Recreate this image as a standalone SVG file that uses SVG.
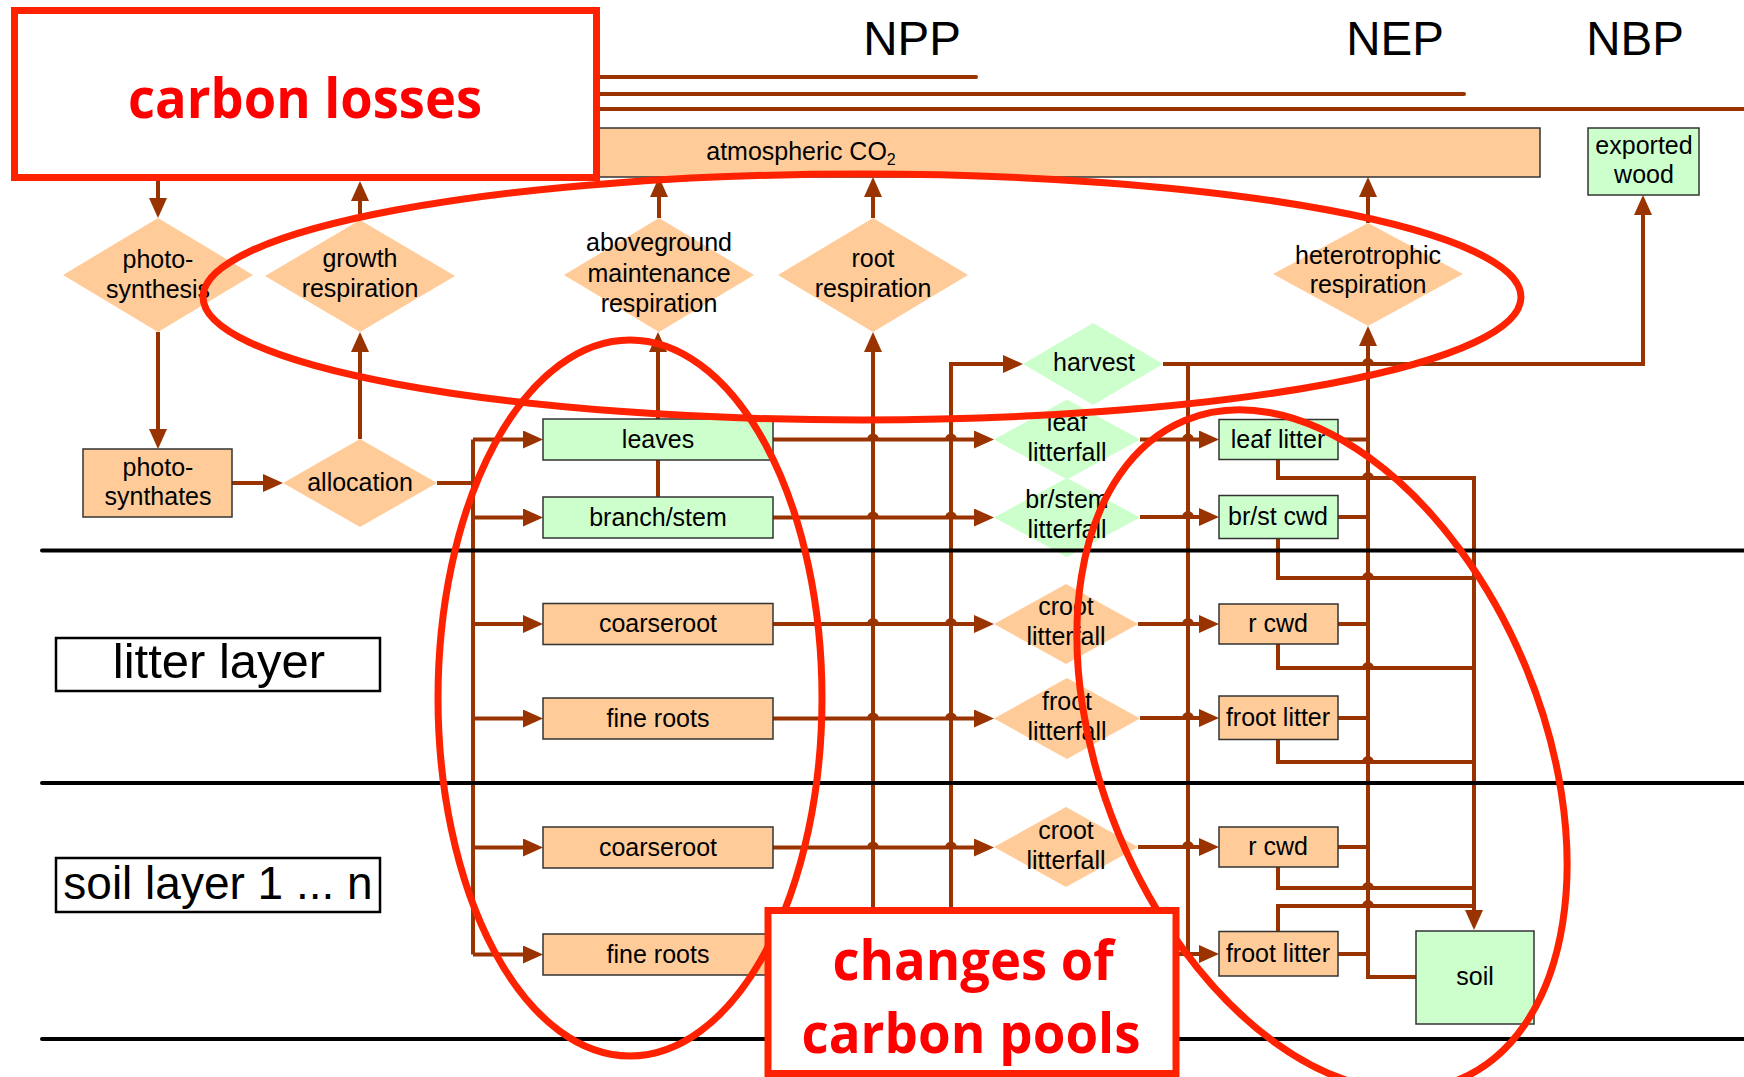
<svg xmlns="http://www.w3.org/2000/svg" width="1744" height="1077" viewBox="0 0 1744 1077">
  <defs>
    <marker id="arr" markerUnits="userSpaceOnUse" markerWidth="20" markerHeight="18" refX="15" refY="9" orient="auto">
      <path d="M0,0 L20,9 L0,18 z" fill="#993300"/>
    </marker>
    <style>
      .flow{fill:none;stroke:#993300;stroke-width:4}
      .arrow{marker-end:url(#arr)}
      .bar{fill:none;stroke:#993300;stroke-width:4;stroke-linecap:round}
      .box-o{fill:#FFCC99;stroke:#333;stroke-width:1.5}
      .box-g{fill:#CCFFCC;stroke:#333;stroke-width:1.5}
      .dia-o{fill:#FFCC99}
      .dia-g{fill:#CCFFCC}
      .lbl{font-family:"Liberation Sans",Arial,sans-serif;font-size:25px;fill:#000;text-anchor:middle}
      .big{font-family:"Liberation Sans",Arial,sans-serif;font-size:47.5px;fill:#000;text-anchor:middle}
      .layer{stroke:#000;stroke-width:4;stroke-linecap:round}
      .tag{fill:#fff;stroke:#000;stroke-width:2.5}
      .ring{fill:none;stroke:#FF2200;stroke-width:7}
      .callout{fill:#fff;stroke:#FF2200;stroke-width:7}
      .callout-t{font-family:"Open Sans","Liberation Sans",sans-serif;font-weight:bold;font-size:56px;fill:#FF0000;text-anchor:middle}
    </style>
  </defs>

  <rect width="1744" height="1077" fill="#fff"/>

  <!-- budget headings and their bars -->
  <g id="budget-terms">
    <text class="big" x="912" y="55">NPP</text>
    <text class="big" x="1395" y="55">NEP</text>
    <text class="big" x="1635" y="55">NBP</text>
    <path class="bar" d="M600,77 H976"/>
    <path class="bar" d="M600,94 H1464"/>
    <path class="bar" d="M600,109 H1744"/>
  </g>

  <!-- connectors -->
  <g id="connectors">
    <!-- top row to atmosphere / carbon losses -->
    <path class="flow arrow" d="M158,181 V213"/>
    <path class="flow arrow" d="M360,220 V186"/>
    <path class="flow arrow" d="M659,218 V182"/>
    <path class="flow arrow" d="M873,218 V182"/>
    <path class="flow arrow" d="M1368,223 V182"/>
    <!-- assimilation and allocation -->
    <path class="flow arrow" d="M158,332 V444"/>
    <path class="flow arrow" d="M232,483 H278"/>
    <path class="flow arrow" d="M360,439 V337"/>
    <path class="flow" d="M437,483 H473"/>
    <path class="flow" d="M473,439.5 V954.5"/>
    <path class="flow arrow" d="M473,439.5 H538"/>
    <path class="flow arrow" d="M473,517.5 H538"/>
    <path class="flow arrow" d="M473,624 H538"/>
    <path class="flow arrow" d="M473,718.5 H538"/>
    <path class="flow arrow" d="M473,847.5 H538"/>
    <path class="flow arrow" d="M473,954.5 H538"/>
    <!-- maintenance respiration of leaves and stem -->
    <path class="flow arrow" d="M658,419 V337"/>
    <path class="flow" d="M658,497 V460"/>
    <!-- root respiration and harvest collectors -->
    <path class="flow arrow" d="M873,954 V337"/>
    <path class="flow arrow" d="M951,954 V364 H1018"/>
    <!-- plant pools to litterfall -->
    <path class="flow arrow" d="M773,439.5 H869 a4,4 0 0 1 8,0 H947 a4,4 0 0 1 8,0 H989"/>
    <path class="flow arrow" d="M773,517.5 H869 a4,4 0 0 1 8,0 H947 a4,4 0 0 1 8,0 H989"/>
    <path class="flow arrow" d="M773,624 H869 a4,4 0 0 1 8,0 H947 a4,4 0 0 1 8,0 H989"/>
    <path class="flow arrow" d="M773,718.5 H869 a4,4 0 0 1 8,0 H947 a4,4 0 0 1 8,0 H989"/>
    <path class="flow arrow" d="M773,847.5 H869 a4,4 0 0 1 8,0 H947 a4,4 0 0 1 8,0 H989"/>
    <!-- litterfall to litter pools -->
    <path class="flow arrow" d="M1140,439.5 H1184 a4,4 0 0 1 8,0 H1214"/>
    <path class="flow arrow" d="M1140,517 H1184 a4,4 0 0 1 8,0 H1214"/>
    <path class="flow arrow" d="M1138,624 H1184 a4,4 0 0 1 8,0 H1214"/>
    <path class="flow arrow" d="M1140,718 H1184 a4,4 0 0 1 8,0 H1214"/>
    <path class="flow arrow" d="M1138,847 H1184 a4,4 0 0 1 8,0 H1214"/>
    <path class="flow arrow" d="M1170,954 H1214"/>
    <!-- harvest residues and export -->
    <path class="flow" d="M1188,364 V954"/>
    <path class="flow arrow" d="M1163,364 H1364 a4,4 0 0 1 8,0 H1643 V200"/>
    <!-- heterotrophic respiration collector -->
    <path class="flow arrow" d="M1416,977 H1368 V331"/>
    <path class="flow" d="M1338,439.5 H1368"/>
    <path class="flow" d="M1338,517 H1368"/>
    <path class="flow" d="M1338,624 H1368"/>
    <path class="flow" d="M1338,718 H1368"/>
    <path class="flow" d="M1338,847 H1368"/>
    <path class="flow" d="M1338,954 H1368"/>
    <!-- litter pools to soil -->
    <path class="flow" d="M1278,459.5 V478 H1364 a4,4 0 0 1 8,0 H1474"/>
    <path class="flow" d="M1278,538.5 V578 H1364 a4,4 0 0 1 8,0 H1474"/>
    <path class="flow" d="M1278,644 V668 H1364 a4,4 0 0 1 8,0 H1474"/>
    <path class="flow" d="M1278,739.5 V762 H1364 a4,4 0 0 1 8,0 H1474"/>
    <path class="flow" d="M1278,867 V888 H1364 a4,4 0 0 1 8,0 H1474"/>
    <path class="flow" d="M1278,931.5 V906 H1364 a4,4 0 0 1 8,0 H1474"/>
    <path class="flow arrow" d="M1474,476 V925"/>
  </g>

  <!-- atmosphere and export -->
  <g id="atmospheric-co2">
    <rect class="box-o" x="560" y="128" width="980" height="49"/>
    <text class="lbl" x="801" y="160">atmospheric CO<tspan font-size="16" dy="5">2</tspan></text>
  </g>
  <g id="exported-wood">
    <rect class="box-g" x="1588" y="128" width="111" height="67"/>
    <text class="lbl" x="1644" y="154">exported</text>
    <text class="lbl" x="1644" y="183">wood</text>
  </g>

  <!-- process diamonds -->
  <g id="photosynthesis">
    <polygon class="dia-o" points="158,218 253,275 158,332 63,275"/>
    <text class="lbl" x="158" y="268">photo-</text>
    <text class="lbl" x="158" y="298">synthesis</text>
  </g>
  <g id="growth-respiration">
    <polygon class="dia-o" points="360,220 455,276 360,332 265,276"/>
    <text class="lbl" x="360" y="267">growth</text>
    <text class="lbl" x="360" y="297">respiration</text>
  </g>
  <g id="maintenance-respiration">
    <polygon class="dia-o" points="659,218 754,275 659,332 564,275"/>
    <text class="lbl" x="659" y="251">aboveground</text>
    <text class="lbl" x="659" y="282">maintenance</text>
    <text class="lbl" x="659" y="312">respiration</text>
  </g>
  <g id="root-respiration">
    <polygon class="dia-o" points="873,218 968,275 873,332 778,275"/>
    <text class="lbl" x="873" y="267">root</text>
    <text class="lbl" x="873" y="297">respiration</text>
  </g>
  <g id="heterotrophic-respiration">
    <polygon class="dia-o" points="1368,223 1463,274 1368,326 1273,274"/>
    <text class="lbl" x="1368" y="264">heterotrophic</text>
    <text class="lbl" x="1368" y="293">respiration</text>
  </g>
  <g id="photosynthates">
    <rect class="box-o" x="83" y="449" width="149" height="68"/>
    <text class="lbl" x="158" y="476">photo-</text>
    <text class="lbl" x="158" y="505">synthates</text>
  </g>
  <g id="allocation">
    <polygon class="dia-o" points="360,439 437,483 360,527 283,483"/>
    <text class="lbl" x="360" y="491">allocation</text>
  </g>
  <g id="harvest">
    <polygon class="dia-g" points="1093,323 1163,364 1093,405 1023,364"/>
    <text class="lbl" x="1094" y="371">harvest</text>
  </g>

  <!-- plant pools -->
  <g id="leaves">
    <rect class="box-g" x="543" y="419" width="230" height="41"/>
    <text class="lbl" x="658" y="447.5">leaves</text>
  </g>
  <g id="branch-stem">
    <rect class="box-g" x="543" y="497" width="230" height="41"/>
    <text class="lbl" x="658" y="525.5">branch/stem</text>
  </g>
  <g id="coarseroot-litter-layer">
    <rect class="box-o" x="543" y="603.5" width="230" height="41"/>
    <text class="lbl" x="658" y="632">coarseroot</text>
  </g>
  <g id="fineroots-litter-layer">
    <rect class="box-o" x="543" y="698" width="230" height="41"/>
    <text class="lbl" x="658" y="726.5">fine roots</text>
  </g>
  <g id="coarseroot-soil-layer">
    <rect class="box-o" x="543" y="827" width="230" height="41"/>
    <text class="lbl" x="658" y="855.5">coarseroot</text>
  </g>
  <g id="fineroots-soil-layer">
    <rect class="box-o" x="543" y="934" width="230" height="41"/>
    <text class="lbl" x="658" y="962.5">fine roots</text>
  </g>

  <!-- litterfall processes -->
  <g id="leaf-litterfall">
    <polygon class="dia-g" points="1067,399.5 1140,439.5 1067,479.5 994,439.5"/>
    <text class="lbl" x="1067" y="430.5">leaf</text>
    <text class="lbl" x="1067" y="460.5">litterfall</text>
  </g>
  <g id="brstem-litterfall">
    <polygon class="dia-g" points="1067,478 1140,517.5 1067,557 994,517.5"/>
    <text class="lbl" x="1067" y="508">br/stem</text>
    <text class="lbl" x="1067" y="538">litterfall</text>
  </g>
  <g id="croot-litterfall-litter-layer">
    <polygon class="dia-o" points="1066,584 1138,624 1066,664 994,624"/>
    <text class="lbl" x="1066" y="615">croot</text>
    <text class="lbl" x="1066" y="645">litterfall</text>
  </g>
  <g id="froot-litterfall-litter-layer">
    <polygon class="dia-o" points="1067,678 1140,718.5 1067,759 994,718.5"/>
    <text class="lbl" x="1067" y="709.5">froot</text>
    <text class="lbl" x="1067" y="739.5">litterfall</text>
  </g>
  <g id="croot-litterfall-soil-layer">
    <polygon class="dia-o" points="1066,807 1138,847 1066,887 994,847"/>
    <text class="lbl" x="1066" y="839">croot</text>
    <text class="lbl" x="1066" y="869">litterfall</text>
  </g>

  <!-- litter and soil pools -->
  <g id="leaf-litter">
    <rect class="box-g" x="1219" y="419.5" width="119" height="40"/>
    <text class="lbl" x="1278" y="447.5">leaf litter</text>
  </g>
  <g id="brst-cwd">
    <rect class="box-g" x="1219" y="495.5" width="119" height="43"/>
    <text class="lbl" x="1278" y="525">br/st cwd</text>
  </g>
  <g id="rcwd-litter-layer">
    <rect class="box-o" x="1219" y="604" width="119" height="40"/>
    <text class="lbl" x="1278" y="632">r cwd</text>
  </g>
  <g id="froot-litter-litter-layer">
    <rect class="box-o" x="1219" y="696" width="119" height="43.5"/>
    <text class="lbl" x="1278" y="726">froot litter</text>
  </g>
  <g id="rcwd-soil-layer">
    <rect class="box-o" x="1219" y="827" width="119" height="40"/>
    <text class="lbl" x="1278" y="855">r cwd</text>
  </g>
  <g id="froot-litter-soil-layer">
    <rect class="box-o" x="1219" y="931.5" width="119" height="44.5"/>
    <text class="lbl" x="1278" y="962">froot litter</text>
  </g>
  <g id="soil">
    <rect class="box-g" x="1416" y="931" width="118" height="93"/>
    <text class="lbl" x="1475" y="985">soil</text>
  </g>

  <!-- layer boundaries and layer names -->
  <g id="layers">
    <line class="layer" x1="42" y1="550.5" x2="1744" y2="550.5"/>
    <line class="layer" x1="42" y1="783" x2="1744" y2="783"/>
    <line class="layer" x1="42" y1="1039" x2="1744" y2="1039"/>
  </g>
  <g id="litter-layer-label">
    <rect class="tag" x="56" y="638" width="324" height="53"/>
    <text class="lbl" x="219" y="678" font-size="49" style="font-size:49px">litter layer</text>
  </g>
  <g id="soil-layer-label">
    <rect class="tag" x="56" y="858" width="324" height="54"/>
    <text class="lbl" x="218" y="899" style="font-size:46px">soil layer 1 ... n</text>
  </g>

  <!-- highlight rings -->
  <g id="rings">
    <ellipse class="ring" cx="862" cy="297" rx="659" ry="123"/>
    <ellipse class="ring" cx="630" cy="698" rx="192" ry="358"/>
    <ellipse class="ring" cx="1322" cy="750" rx="220" ry="357" transform="rotate(-22.6 1322 750)"/>
  </g>

  <!-- callouts -->
  <g id="carbon-losses">
    <rect class="callout" x="14.5" y="10.5" width="582" height="167"/>
    <text class="callout-t" x="305" y="118" textLength="354" lengthAdjust="spacingAndGlyphs">carbon losses</text>
  </g>
  <g id="changes-of-carbon-pools">
    <rect class="callout" x="768" y="910.5" width="408" height="163"/>
    <text class="callout-t" x="973" y="980" textLength="281" lengthAdjust="spacingAndGlyphs">changes of</text>
    <text class="callout-t" x="971" y="1053" textLength="339" lengthAdjust="spacingAndGlyphs">carbon pools</text>
  </g>
</svg>
